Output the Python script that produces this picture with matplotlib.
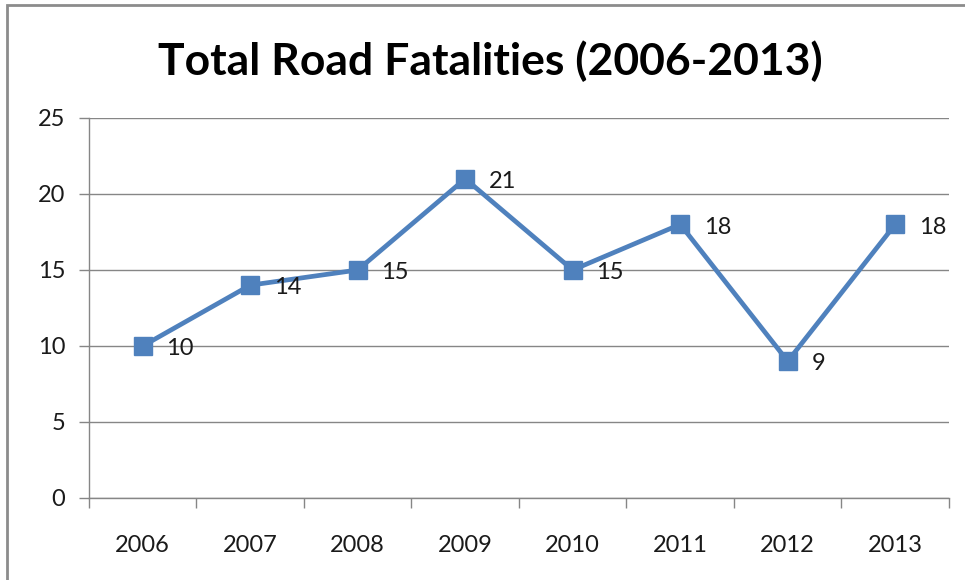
import matplotlib.pyplot as plt
from matplotlib.patches import Rectangle

years = ['2006', '2007', '2008', '2009', '2010', '2011', '2012', '2013']
fatalities = [10, 14, 15, 21, 15, 18, 9, 18]
y_ticks = [0, 5, 10, 15, 20, 25]

blue = '#4F81BD'
grey = '#868686'
plt.rcParams['font.family'] = ['Lato', 'DejaVu Sans']

fig = plt.figure(figsize=(9.65, 5.8), dpi=100)
ax = fig.add_axes([0.0922, 0.1414, 0.8912, 0.6552])

x = range(len(years))
ax.plot(x, fatalities, color=blue, lw=3.4, marker='s', ms=13, zorder=3)
for i, v in enumerate(fatalities):
    ax.annotate(str(v), (i, v), xytext=(17, -2), textcoords='offset points',
                ha='left', va='center', fontsize=17, color='#1a1a1a', zorder=4)

ax.set_xlim(-0.5, len(years) - 0.5)
ax.set_ylim(0, 25)
ax.set_yticks(y_ticks)
ax.set_yticklabels([str(t) for t in y_ticks], fontsize=17, color='#1a1a1a')
ax.set_xticks(list(x))
ax.set_xticklabels(years, fontsize=17, color='#1a1a1a')
ax.tick_params(axis='x', length=0, pad=27)
ax.tick_params(axis='y', length=7, color=grey, width=1, pad=10)
ax.set_xticks([i - 0.5 for i in range(len(years) + 1)], minor=True)
ax.tick_params(axis='x', which='minor', length=7, color=grey, width=1)
ax.grid(axis='y', color=grey, lw=1)
ax.set_axisbelow(True)
for side in ['top', 'right']:
    ax.spines[side].set_visible(False)
for side in ['left', 'bottom']:
    ax.spines[side].set_color(grey)
    ax.spines[side].set_linewidth(1)

fig.text(0.508, 0.895, 'Total Road Fatalities (2006-2013)', ha='center', va='center',
         fontsize=32, fontweight='bold', color='black')

fig.patches.append(Rectangle((7 / 965, -0.1), 1.2, 1 - 5 / 580 + 0.1,
                             transform=fig.transFigure, fill=False,
                             ec='#8c8c8c', lw=2))

fig.savefig('out.png', dpi=100)
